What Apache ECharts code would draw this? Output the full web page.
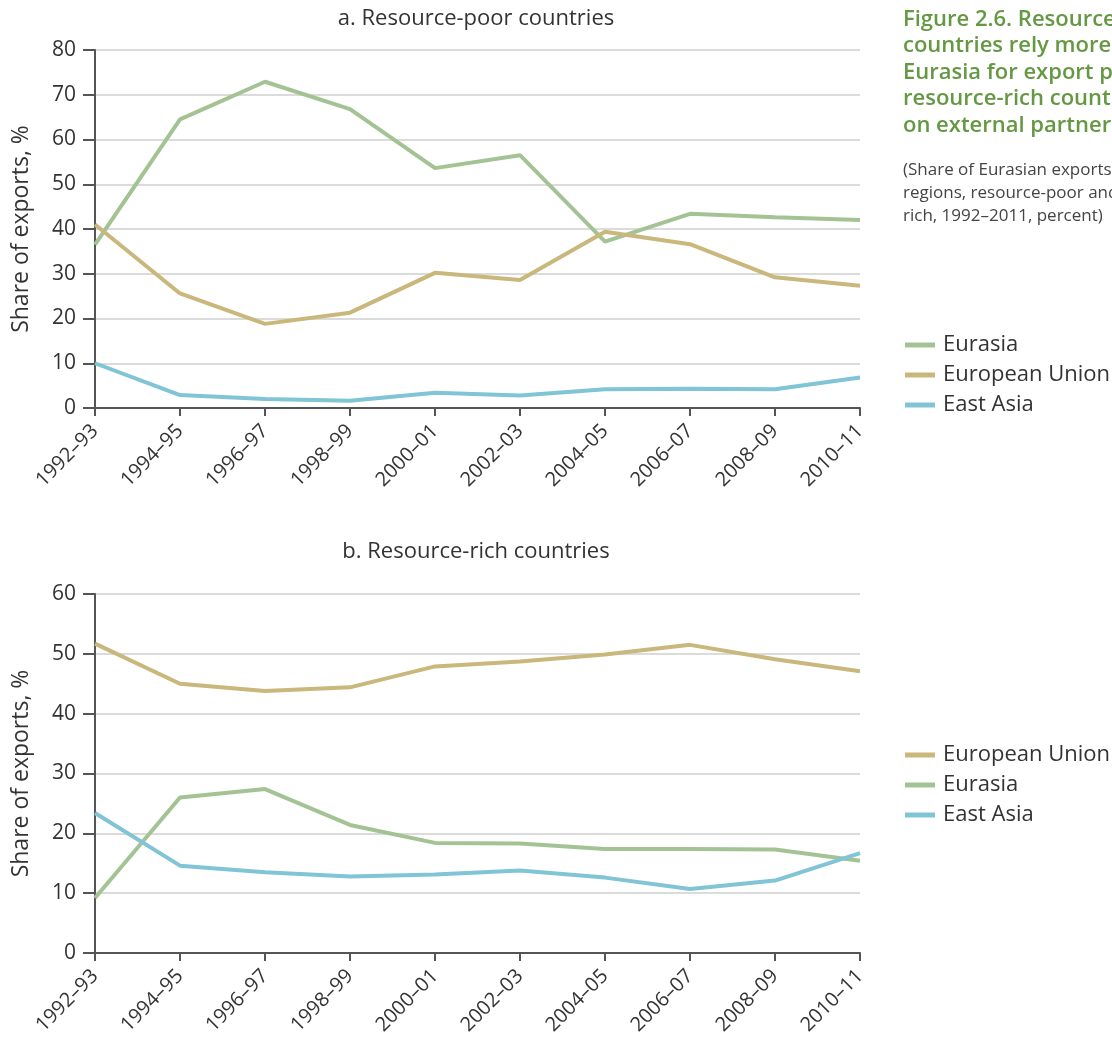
<!DOCTYPE html>
<html>
<head>
<meta charset="utf-8">
<script src="https://cdn.jsdelivr.net/npm/echarts@6/dist/echarts.min.js"></script>
<style>html,body{margin:0;padding:0;background:#fff;}#c{width:1112px;height:1040px;}</style>
</head>
<body>
<div id="c"></div>
<script>
const categories = ['1992–93','1994–95','1996–97','1998–99','2000–01','2002–03','2004–05','2006–07','2008–09','2010–11'];
// a. Resource-poor countries
const poorEurasia = [36.5, 64.5, 72.9, 66.8, 53.6, 56.5, 37.2, 43.4, 42.6, 42.0];
const poorEU = [41.0, 25.6, 18.8, 21.3, 30.2, 28.6, 39.4, 36.6, 29.2, 27.3];
const poorEastAsia = [10.0, 2.9, 2.0, 1.6, 3.4, 2.8, 4.2, 4.3, 4.2, 6.8];
// b. Resource-rich countries
const richEU = [51.7, 45.0, 43.8, 44.4, 47.9, 48.7, 49.9, 51.5, 49.1, 47.1];
const richEurasia = [9.2, 26.0, 27.4, 21.4, 18.4, 18.3, 17.4, 17.4, 17.3, 15.4];
const richEastAsia = [23.4, 14.6, 13.5, 12.8, 13.1, 13.8, 12.6, 10.7, 12.1, 16.7];

const FONT = '"Open Sans", sans-serif';
const C_EURASIA = '#a4c394';
const C_EU = '#c9b77b';
const C_EA = '#80c4d5';

const chart = echarts.init(document.getElementById('c'));

function xAxis(gi) {
  return {
    type: 'category', gridIndex: gi, data: categories, boundaryGap: false,
    axisLine: {lineStyle: {color: '#555', width: 2}},
    axisTick: {show: true, length: 8, lineStyle: {color: '#555', width: 2}},
    axisLabel: {rotate: 45, fontSize: 20, color: '#333', fontFamily: FONT, margin: 20, interval: 0}
  };
}
function yAxis(gi, max) {
  return {
    type: 'value', gridIndex: gi, min: 0, max: max, interval: 10,
    name: 'Share of exports, %', nameLocation: 'middle', nameGap: 62,
    nameTextStyle: {fontSize: 23, color: '#333', fontFamily: FONT},
    axisLine: {show: true, lineStyle: {color: '#555', width: 2}},
    axisTick: {show: true, length: 12, lineStyle: {color: '#555', width: 2}},
    axisLabel: {fontSize: 21, color: '#333', fontFamily: FONT, margin: 19},
    splitLine: {show: true, lineStyle: {color: '#cfcfcf', width: 1.5}}
  };
}
function line(name, data, color, gi) {
  return {
    name: name, type: 'line', data: data, xAxisIndex: gi, yAxisIndex: gi,
    symbol: 'none', lineStyle: {color: color, width: 4}, itemStyle: {color: color},
    animation: false
  };
}

chart.setOption({
  backgroundColor: '#fff',
  animation: false,
  title: [
    {text: 'a. Resource-poor countries', left: 476, textAlign: 'center', top: 8, padding: 0,
      textStyle: {fontSize: 22, fontWeight: 'normal', color: '#333', fontFamily: FONT}},
    {text: 'b. Resource-rich countries', left: 476, textAlign: 'center', top: 541, padding: 0,
      textStyle: {fontSize: 22, fontWeight: 'normal', color: '#333', fontFamily: FONT}},
    {text: 'Figure 2.6. Resource-poor\ncountries rely more on\nEurasia for export partners;\nresource-rich countries rely\non external partners',
      left: 903, top: 6, padding: 0,
      textStyle: {fontSize: 22, fontWeight: 600, color: '#659842', fontFamily: FONT, lineHeight: 26.5}},
    {text: '(Share of Eurasian exports to\nregions, resource-poor and resource-\nrich, 1992–2011, percent)',
      left: 903, top: 159, padding: 0,
      textStyle: {fontSize: 17, fontWeight: 'normal', color: '#444', fontFamily: FONT, lineHeight: 23}}
  ],
  legend: [
    {orient: 'vertical', left: 905, top: 334, padding: 0, itemWidth: 30, itemHeight: 5, itemGap: 8, icon: 'rect',
      data: ['Eurasia', 'European Union', 'East Asia'],
      textStyle: {fontSize: 22, color: '#333', fontFamily: FONT, padding: [0,0,0,3]}},
    {orient: 'vertical', left: 905, top: 744, padding: 0, itemWidth: 30, itemHeight: 5, itemGap: 8, icon: 'rect',
      data: ['European Union', 'Eurasia', 'East Asia'],
      textStyle: {fontSize: 22, color: '#333', fontFamily: FONT, padding: [0,0,0,3]}}
  ],
  grid: [
    {left: 95, right: 252, top: 50, height: 358},
    {left: 95, right: 252, top: 594, height: 359}
  ],
  xAxis: [xAxis(0), xAxis(1)],
  yAxis: [yAxis(0, 80), yAxis(1, 60)],
  series: [
    line('Eurasia', poorEurasia, C_EURASIA, 0),
    line('European Union', poorEU, C_EU, 0),
    line('East Asia', poorEastAsia, C_EA, 0),
    line('European Union', richEU, C_EU, 1),
    line('Eurasia', richEurasia, C_EURASIA, 1),
    line('East Asia', richEastAsia, C_EA, 1)
  ]
});
</script>
</body>
</html>
